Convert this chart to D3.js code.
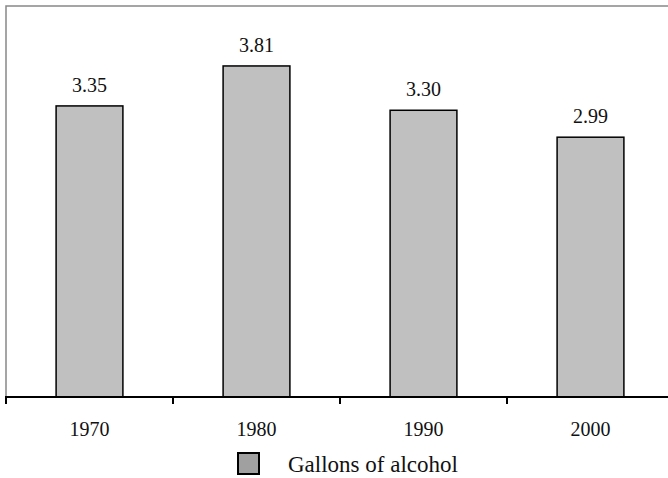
<!DOCTYPE html>
<html lang="en">
<head>
<meta charset="UTF-8">
<title>Gallons of alcohol</title>
<style>
    body, html {
        margin: 0;
        background: #fff;
    }
    svg text {
        font-family: "Liberation Serif", "Times New Roman", Times, serif;
        fill: #111;
    }
    .bar {
        fill: #c0c0c0;
        stroke: #000;
        stroke-width: 1.5px;
    }
</style>
</head>
<body>
<div id="chart"></div>
<script src="https://d3js.org/d3.v7.min.js"></script>
<script>
    // chart data
    const years = ["1970", "1980", "1990", "2000"];
    const gallons = [3.35, 3.81, 3.30, 2.99];
    const seriesName = "Gallons of alcohol";

    const width = 668, height = 478;
    const plotLeft = 6, plotTop = 6, plotRight = 674, axisY = 397;

    const svg = d3.select("#chart").append("svg")
        .attr("width", width)
        .attr("height", height)
        .style("display", "block");

    const x = d3.scaleBand()
        .domain(years)
        .range([plotLeft, plotRight])
        .paddingInner(0.6)
        .paddingOuter(0.3);

    const y = d3.scaleLinear()
        .domain([0, 4.5])
        .range([axisY, plotTop]);

    // frame (top and left only, like the source)
    svg.append("path")
        .attr("d", `M${plotLeft},${axisY} V${plotTop} H${width + 2}`)
        .attr("fill", "none")
        .attr("stroke", "#888")
        .attr("stroke-width", 1.5);

    // bars
    svg.selectAll(".bar")
        .data(years)
        .enter().append("rect")
        .attr("class", "bar")
        .attr("x", d => x(d))
        .attr("y", (d, i) => y(gallons[i]))
        .attr("width", x.bandwidth())
        .attr("height", (d, i) => axisY - y(gallons[i]));

    // value labels
    svg.selectAll(".val")
        .data(years)
        .enter().append("text")
        .attr("class", "val")
        .attr("x", d => x(d) + x.bandwidth() / 2)
        .attr("y", (d, i) => y(gallons[i]) - 14)
        .attr("text-anchor", "middle")
        .style("font-size", "20px")
        .text((d, i) => gallons[i].toFixed(2));

    // category axis: ticks sit between the bands
    const step = x.step();
    const tickPos = d3.range(years.length + 1).map(i => plotLeft + i * step);

    svg.append("line")
        .attr("x1", plotLeft - 1).attr("x2", width)
        .attr("y1", axisY).attr("y2", axisY)
        .attr("stroke", "#000")
        .attr("stroke-width", 2);

    svg.selectAll(".tick")
        .data(tickPos)
        .enter().append("line")
        .attr("x1", d => d).attr("x2", d => d)
        .attr("y1", axisY).attr("y2", axisY + 7)
        .attr("stroke", "#000")
        .attr("stroke-width", 2);

    svg.selectAll(".cat")
        .data(years)
        .enter().append("text")
        .attr("x", d => x(d) + x.bandwidth() / 2)
        .attr("y", 436)
        .attr("text-anchor", "middle")
        .style("font-size", "20px")
        .text(d => d);

    // legend
    const legend = svg.append("g").attr("transform", "translate(238,453)");
    legend.append("rect")
        .attr("width", 21).attr("height", 21)
        .attr("fill", "#a0a0a0")
        .attr("stroke", "#000")
        .attr("stroke-width", 2);
    legend.append("text")
        .attr("x", 50)
        .attr("y", 19)
        .style("font-size", "23px")
        .text(seriesName);
</script>
</body>
</html>
